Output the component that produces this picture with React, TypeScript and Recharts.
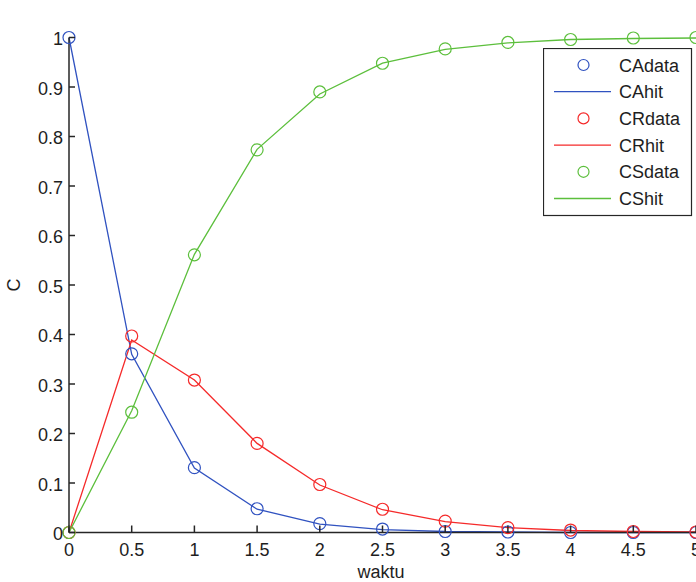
import React from 'react';
import { LineChart, Line, XAxis, YAxis, Legend } from 'recharts';

const waktu = [0, 0.5, 1, 1.5, 2, 2.5, 3, 3.5, 4, 4.5, 5];
const CAdata = [1, 0.361, 0.131, 0.048, 0.018, 0.007, 0.002, 0.001, 0.0, 0.0, 0.0];
const CAhit = [1, 0.36, 0.13, 0.047, 0.017, 0.006, 0.002, 0.001, 0.0, 0.0, 0.0];
const CRdata = [0, 0.397, 0.308, 0.18, 0.097, 0.047, 0.023, 0.01, 0.005, 0.002, 0.001];
const CRhit = [0, 0.389, 0.308, 0.18, 0.096, 0.046, 0.022, 0.01, 0.004, 0.002, 0.001];
const CSdata = [0, 0.243, 0.561, 0.773, 0.89, 0.948, 0.977, 0.99, 0.996, 0.999, 1.0];
const CShit = [0, 0.246, 0.562, 0.774, 0.886, 0.948, 0.976, 0.989, 0.996, 0.998, 0.999];

const xTicks = [0, 0.5, 1, 1.5, 2, 2.5, 3, 3.5, 4, 4.5, 5];
const yTicks = [0, 0.1, 0.2, 0.3, 0.4, 0.5, 0.6, 0.7, 0.8, 0.9, 1];

const BLUE = '#3052c0';
const RED = '#f52a2a';
const GREEN = '#5cbf3c';
const AXIS = '#262626';
const TEXT = '#1e1e1e';
const FONT = '"Liberation Sans", Arial, sans-serif';
const FS = 18;

const series = [
  { key: 'CAdata', color: BLUE, kind: 'data' },
  { key: 'CAhit', color: BLUE, kind: 'hit' },
  { key: 'CRdata', color: RED, kind: 'data' },
  { key: 'CRhit', color: RED, kind: 'hit' },
  { key: 'CSdata', color: GREEN, kind: 'data' },
  { key: 'CShit', color: GREEN, kind: 'hit' },
];

const data = waktu.map((t, i) => ({
  t,
  CAdata: CAdata[i],
  CAhit: CAhit[i],
  CRdata: CRdata[i],
  CRhit: CRhit[i],
  CSdata: CSdata[i],
  CShit: CShit[i],
}));

const fmt = (v: number) => String(Math.round(v * 10) / 10);

const BottomTick = (props: any) => {
  const { x, y, payload } = props;
  return (
    <g>
      <line x1={x} x2={x} y1={y} y2={y - 7} stroke={AXIS} strokeWidth={1.5} />
      <text x={x} y={y + 23.5} textAnchor="middle" fontFamily={FONT} fontSize={FS} fill={TEXT}>
        {fmt(payload.value)}
      </text>
    </g>
  );
};

const TopTick = (props: any) => {
  const { x, y } = props;
  return <line x1={x} x2={x} y1={y} y2={y + 7} stroke={AXIS} strokeWidth={1.5} />;
};

const LeftTick = (props: any) => {
  const { x, y, payload } = props;
  return (
    <g>
      <line x1={x} x2={x + 6} y1={y} y2={y} stroke={AXIS} strokeWidth={1.5} />
      <text x={x - 6} y={y + 7.5} textAnchor="end" fontFamily={FONT} fontSize={FS} fill={TEXT}>
        {fmt(payload.value)}
      </text>
    </g>
  );
};

const RightTick = (props: any) => {
  const { x, y } = props;
  return <line x1={x} x2={x - 6} y1={y} y2={y} stroke={AXIS} strokeWidth={1.5} />;
};

const LegendBox = (props: any) => {
  const payload = props.payload || [];
  return (
    <svg width={150} height={169} style={{ display: 'block' }}>
      <rect x={0.5} y={0.5} width={148} height={167} fill="#fff" stroke={AXIS} strokeWidth={1.2} />
      {payload.map((e: any, i: number) => {
        const s = series.find((q) => q.key === e.value) || series[i];
        const cy = 17 + i * 26.7;
        return (
          <g key={s.key}>
            {s.kind === 'data' ? (
              <circle cx={40.5} cy={cy} r={5.5} fill="none" stroke={s.color} strokeWidth={1.2} />
            ) : (
              <line x1={11} x2={68} y1={cy} y2={cy} stroke={s.color} strokeWidth={1.3} />
            )}
            <text x={76} y={cy + 6.5} fontFamily={FONT} fontSize={FS} fill={TEXT}>
              {s.key}
            </text>
          </g>
        );
      })}
    </svg>
  );
};

const makeDot = (color: string) => (p: any) => {
  const { cx, cy, index } = p;
  if (cx == null || cy == null) return <g key={index} />;
  return <circle key={index} cx={cx} cy={cy} r={6} fill="none" stroke={color} strokeWidth={1.2} />;
};

export default function App() {
  return (
    <div style={{ position: 'absolute', left: 0, top: 0, width: 696, height: 582, background: '#fff' }}>
      <LineChart
        width={696}
        height={582}
        data={data}
        margin={{ top: 37.5, right: 0, bottom: 19.5, left: 0 }}
      >
        <XAxis
          xAxisId="bottom"
          dataKey="t"
          type="number"
          domain={[0, 5]}
          ticks={xTicks}
          interval={0}
          height={30}
          tickSize={0}
          tickMargin={0}
          tickLine={false}
          axisLine={{ stroke: AXIS, strokeWidth: 1.5 }}
          tick={<BottomTick />}
          label={{
            content: () => (
              <text x={381} y={578} textAnchor="middle" fontFamily={FONT} fontSize={FS} fill={TEXT}>
                waktu
              </text>
            ),
          }}
        />
        <XAxis
          xAxisId="top"
          orientation="top"
          dataKey="t"
          type="number"
          domain={[0, 5]}
          ticks={xTicks}
          interval={0}
          height={0}
          tickSize={0}
          tickMargin={0}
          tickLine={false}
          axisLine={{ stroke: AXIS, strokeWidth: 1.5 }}
          tick={<TopTick />}
          label={{
            content: () => (
              <text x={381} y={24} textAnchor="middle" fontFamily={FONT} fontSize={FS} fill={TEXT}>
                grafik C vs waktu
              </text>
            ),
          }}
        />
        <YAxis
          yAxisId="left"
          type="number"
          domain={[0, 1]}
          ticks={yTicks}
          interval={0}
          width={69}
          tickSize={0}
          tickMargin={0}
          tickLine={false}
          axisLine={{ stroke: AXIS, strokeWidth: 1.5 }}
          tick={<LeftTick />}
          label={{
            content: () => (
              <text
                x={14}
                y={285}
                transform="rotate(-90, 14, 285)"
                textAnchor="middle"
                dominantBaseline="central"
                fontFamily={FONT}
                fontSize={FS}
                fill={TEXT}
              >
                C
              </text>
            ),
          }}
        />
        <YAxis
          yAxisId="right"
          orientation="right"
          type="number"
          domain={[0, 1]}
          ticks={yTicks}
          interval={0}
          width={0}
          tickSize={0}
          tickMargin={0}
          tickLine={false}
          axisLine={false}
          tick={<RightTick />}
        />
        <Legend
          layout="horizontal"
          align="center"
          verticalAlign="middle"
          wrapperStyle={{ position: 'absolute', left: 543, top: 48, width: 150, height: 169, margin: 0, padding: 0 }}
          content={<LegendBox />}
        />
        {series.map((s) =>
          s.kind === 'data' ? (
            <Line
              key={s.key}
              xAxisId="bottom"
              yAxisId="left"
              dataKey={s.key}
              name={s.key}
              stroke="none"
              strokeWidth={0}
              dot={makeDot(s.color)}
              activeDot={false}
              isAnimationActive={false}
            />
          ) : (
            <Line
              key={s.key}
              xAxisId="bottom"
              yAxisId="left"
              type="linear"
              dataKey={s.key}
              name={s.key}
              stroke={s.color}
              strokeWidth={1.3}
              dot={false}
              activeDot={false}
              isAnimationActive={false}
            />
          )
        )}
      </LineChart>
    </div>
  );
}
